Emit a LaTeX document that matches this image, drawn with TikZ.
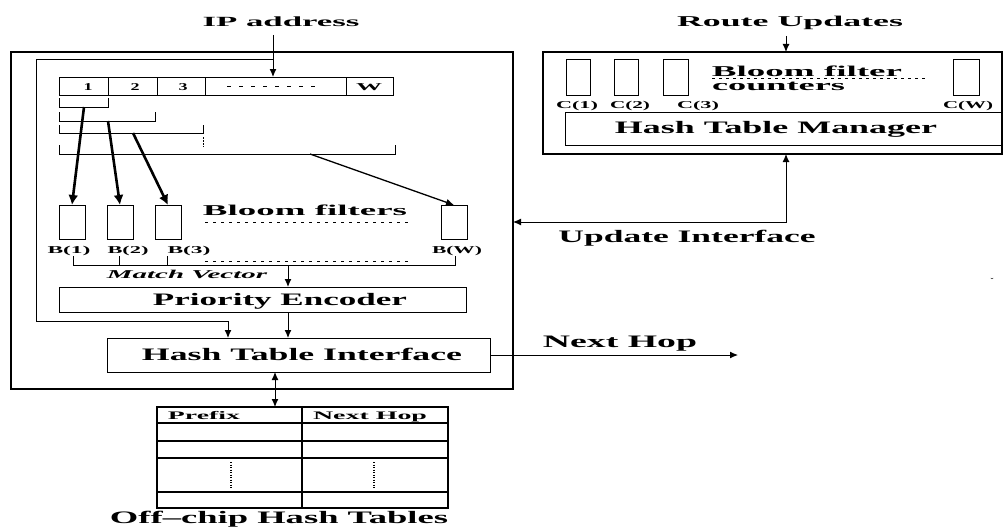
\documentclass[tikz,border=0pt]{standalone}
\usepackage{fontspec}
\setmainfont{Liberation Serif}
\usepackage{graphicx}
\usetikzlibrary{arrows.meta}
\newcommand\tx[3]{\resizebox{#2pt}{\height}{\fontsize{#1}{#1}\selectfont\bfseries #3}}
\newcommand\bx[6][]{\node[box,#1,minimum width={(#5-#3)*1pt},minimum height={(#6-#4)*1pt}] (#2) at (#3,#4) {};}
\tikzset{
  box/.style={draw, line width=1pt, inner sep=0pt, outer sep=0pt, anchor=north west},
  lbl/.style={inner sep=0pt, outer sep=0pt, anchor=base},
  arr/.style={-{Latex[length=8pt,width=7pt]}, line width=1pt},
  darr/.style={{Latex[length=8pt,width=7pt]}-{Latex[length=8pt,width=7pt]}, line width=1pt},
  thickarr/.style={-{Latex[length=10pt,width=10pt]}, line width=2.6pt},
  dots/.style={line width=1pt, dash pattern=on 3pt off 5pt},
  thin/.style={line width=1pt},
}
\begin{document}
\begin{tikzpicture}[x=1pt,y=-1pt]
\useasboundingbox (0,0) rectangle (1003,527);
% outer boxes
\bx[line width=1.6pt]{ob}{11}{52}{513}{389}
\bx[line width=1.4pt]{rb}{543}{52}{1002}{154}
% IP address cells
\bx{c1}{59}{77}{108}{95}
\bx{c2}{108}{77}{157}{95}
\bx{c3}{157}{77}{205}{95}
\bx{c4}{205}{77}{346}{95}
\bx{c5}{346}{77}{393}{95}
\node[lbl] (t1) at (88,90) {\tx{10.5}{9}{1}};
\node[lbl] (t2) at (135,90) {\tx{10.5}{9}{2}};
\node[lbl] (t3) at (183,90) {\tx{10.5}{9}{3}};
\node[lbl] (tw) at (369,90) {\tx{10.5}{26}{W}};
\draw[line width=1pt, dash pattern=on 4pt off 8pt] (227,86) -- (322,86);
% brackets
\draw[thin] (59,98) -- (59,107) -- (108,107) -- (108,98);
\draw[thin] (59,112) -- (59,121) -- (155,121) -- (155,112);
\draw[thin] (59,125) -- (59,133) -- (203,133) -- (203,125);
\draw[line width=1pt, dash pattern=on 1.5pt off 1.5pt] (203,137) -- (203,147);
\draw[thin] (59,145) -- (59,154) -- (395,154) -- (395,145);
\coordinate (k1) at (84,107);
\coordinate (k2) at (108,121);
\coordinate (k3) at (133,133);
\coordinate (k4) at (310,154);
% bloom filters
\bx{bf1}{59}{205}{85}{239}
\bx{bf2}{107}{205}{133}{239}
\bx{bf3}{155}{205}{181}{239}
\bx{bfw}{441}{205}{467}{239}
\draw[thickarr] (k1) -- (bf1.north);
\draw[thickarr] (k2) -- (bf2.north);
\draw[thickarr] (k3) -- (bf3.north);
\draw[arr, line width=1.3pt] (k4) -- (bfw.north);
\node[lbl] (bft) at (305,215) {\tx{15}{204}{Bloom filters}};
\draw[dots] (205,222) -- (412,222);
\node[lbl] (b1) at (69,253) {\tx{10.5}{43}{B(1)}};
\node[lbl] (b2) at (128,253) {\tx{10.5}{41}{B(2)}};
\node[lbl] (b3) at (189,253) {\tx{10.5}{43}{B(3)}};
\node[lbl] (bw) at (457,253) {\tx{10.5}{50}{B(W)}};
\draw[dots] (205,261) -- (412,261);
% match vector
\coordinate (m1) at (73,265);
\coordinate (m2) at (119,265);
\coordinate (m3) at (167,265);
\coordinate (mw) at (455,265);
\coordinate (mc) at (288,265);
\draw[thin] (73,256) -- (m1) -- (mw) -- (455,256);
\draw[thin] (119,256) -- (m2);
\draw[thin] (167,256) -- (m3);
\node[lbl] (mv) at (187,278) {\tx{12}{160}{\itshape Match Vector}};
% priority encoder & hash table interface
\bx{pe}{59}{287}{466}{312}
\node[lbl] (pet) at (280,305) {\tx{17.5}{254}{Priority Encoder}};
\bx{hti}{107}{338}{490}{372}
\node[lbl] (htit) at (302,360) {\tx{17.5}{320}{Hash Table Interface}};
\draw[arr] (mc) -- (mc |- pe.north);
\coordinate (pc) at (288,320);
\draw[arr] (pc |- pe.south) -- (pc |- hti.north);
% IP address input and loop
\node[lbl] (ip) at (281,26.5) {\tx{14}{157}{IP address}};
\coordinate (ipsrc) at (273,35);
\coordinate (lp) at (273,60);
\coordinate (lc) at (228,321);
\draw[arr] (ipsrc) -- (ipsrc |- c4.north);
\draw[arr] (lp) -- (36,60) -- (36,321) -- (lc) -- (lc |- hti.north);
% next hop
\coordinate (nh) at (738,355);
\draw[arr] (hti.east |- nh) -- (nh);
\node[lbl] (nht) at (620,347) {\tx{17.5}{154}{Next Hop}};
% off-chip table
\bx[line width=1.5pt]{tbl}{157}{407}{448}{508}
\draw[line width=1.5pt] (302,407) -- (302,508);
\draw[line width=1.2pt] (157,423) -- (448,423);
\draw[line width=1.2pt] (157,441) -- (448,441);
\draw[line width=1.2pt] (157,458) -- (448,458);
\draw[line width=1.2pt] (157,492) -- (448,492);
\draw[line width=1.2pt, dash pattern=on 1.2pt off 1.3pt] (231,462) -- (231,488);
\draw[line width=1.2pt, dash pattern=on 1.2pt off 1.3pt] (374,462) -- (374,488);
\node[lbl] (pf) at (204,419) {\tx{11.5}{72}{Prefix}};
\node[lbl] (nh2) at (370,419) {\tx{11.5}{114}{Next Hop}};
\coordinate (hx) at (275,380);
\draw[darr] (hx |- hti.south) -- (hx |- tbl.north);
\node[lbl] (oc) at (279,523) {\tx{17.5}{338}{Off–chip Hash Tables}};
% right block
\node[lbl] (ru) at (790,26.7) {\tx{15}{226}{Route Updates}};
\coordinate (rs) at (786,36);
\draw[arr] (rs) -- (rs |- rb.north);
\bx{cc1}{566}{60}{590}{95}
\bx{cc2}{614}{60}{638}{95}
\bx{cc3}{663}{60}{688}{95}
\bx{ccw}{953}{60}{979}{95}
\node[lbl] (bfr) at (807,76) {\tx{15}{190}{Bloom filter}};
\draw[line width=1pt, dash pattern=on 3pt off 4pt] (712,78) -- (925,78);
\node[lbl] (cnt) at (778.5,90) {\tx{15}{133}{counters}};
\node[lbl] (cl1) at (577,108) {\tx{10.5}{42}{C(1)}};
\node[lbl] (cl2) at (630,108) {\tx{10.5}{40}{C(2)}};
\node[lbl] (cl3) at (698,108) {\tx{10.5}{42}{C(3)}};
\node[lbl] (clw) at (968,108) {\tx{10.5}{50}{C(W)}};
\bx{htm}{565}{112}{1002}{145}
\node[lbl] (htmt) at (776,133) {\tx{17.5}{322}{Hash Table Manager}};
% update interface
\coordinate (uc) at (786,222);
\draw[darr] (uc -| ob.east) -- (uc) -- (uc |- rb.south);
\node[lbl] (uit) at (687,242) {\tx{17.5}{257}{Update Interface}};
% stray mark
\node[lbl, font=\fontsize{9}{9}\selectfont] (sm) at (992,284) {˘};
\end{tikzpicture}
\end{document}
